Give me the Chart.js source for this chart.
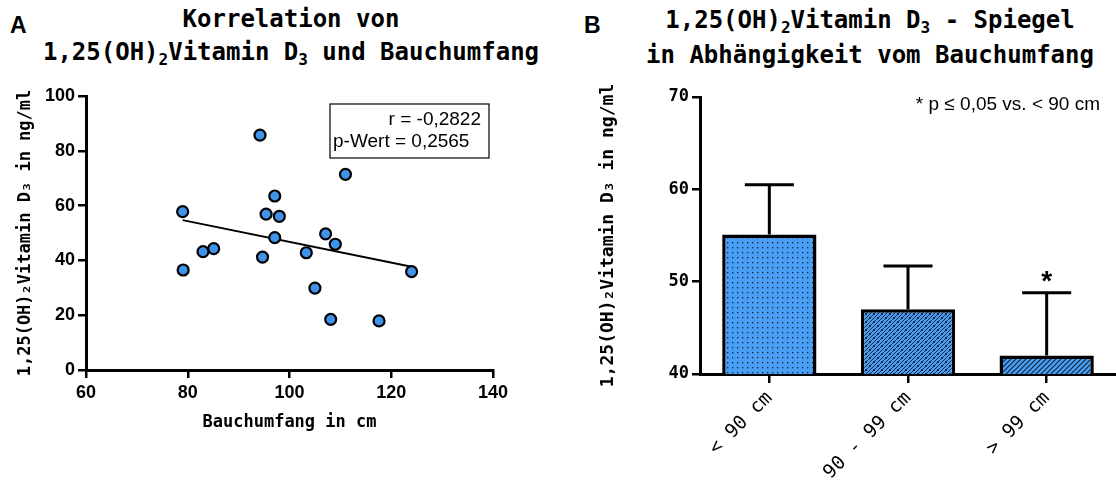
<!DOCTYPE html>
<html>
<head>
<meta charset="utf-8">
<script src="https://cdn.jsdelivr.net/npm/chart.js@4.4.1/dist/chart.umd.min.js"></script>
<style>
    body { margin: 0; background: #fff; width: 1116px; height: 481px; overflow: hidden; position: relative; }
    .wrap { position: absolute; top: 0; height: 481px; }
    .panel { position: absolute; font: bold 23px "Liberation Sans", Arial, sans-serif; color: #000; }
    .title { position: absolute; font: bold 24px "DejaVu Sans Mono", monospace; color: #000; text-align: center;
             white-space: nowrap; transform: translateX(-50%); }
    .title sub { font-size: 16px; vertical-align: -5px; line-height: 0; }
</style>
</head>
<body>
<div class="panel" style="left:10px;top:12px">A</div>
<div class="panel" style="left:584px;top:12px">B</div>
<div class="title" style="left:291px;top:3px;line-height:33px">Korrelation von<br>1,25(OH)<sub>2</sub>Vitamin D<sub>3</sub> und Bauchumfang</div>
<div class="title" style="left:870px;top:3px;line-height:35px">1,25(OH)<sub>2</sub>Vitamin D<sub>3</sub> - Spiegel<br>in Abhängigkeit vom Bauchumfang</div>

<div class="wrap" style="left:0;width:560px"><canvas id="scatterChart" width="560" height="481"></canvas></div>
<div class="wrap" style="left:560px;width:556px"><canvas id="barChart" width="556" height="481"></canvas></div>

<script>
// Panel A: Bauchumfang (cm) gegen 1,25(OH)2 Vitamin D3 (ng/ml)
var waistCm  = [79.0, 79.1, 83.0, 85.1, 94.2, 94.7, 95.4, 97.1, 97.1, 98.0, 103.3, 105.0, 107.1, 108.1, 109.0, 111.0, 117.6, 124.0];
var vitaminD = [57.8, 36.5, 43.2, 44.3, 85.7, 41.2, 56.9, 63.5, 48.3, 56.1, 42.8, 29.9, 49.7, 18.5, 45.9, 71.4, 17.9, 35.9];
var fitX = [79, 124];
var fitY = [54.7, 37.7];
var statLines = ['r = -0,2822', 'p-Wert = 0,2565'];

// Panel B: Mittelwert + SD je Gruppe
var groups = ['< 90 cm', '90 - 99 cm', '> 99 cm'];
var means  = [55.1, 47.0, 42.0];
var sds    = [5.4, 4.7, 6.8];
var marks  = ['', '', '*'];
var noteB  = '* p \u2264 0,05 vs. < 90 cm';

var yTitle = '1,25(OH)\u2082Vitamin D\u2083 in ng/ml';
var blue = '#4a9ff5';
var monoBold = { family: '"DejaVu Sans Mono", monospace', weight: 'bold' };

function makePattern(kind) {
    var c = document.createElement('canvas');
    var s = kind === 'cross' ? 8 : 5;
    c.width = s; c.height = s;
    var g = c.getContext('2d');
    g.fillStyle = blue;
    g.fillRect(0, 0, s, s);
    g.strokeStyle = '#13263d';
    g.fillStyle = '#13263d';
    g.lineWidth = 1;
    if (kind === 'dots') {
        g.fillRect(2, 2, 1.3, 1.3);
    } else if (kind === 'hatch') {
        g.lineWidth = 1.2;
        g.beginPath();
        g.moveTo(-1, s + 1); g.lineTo(s + 1, -1);
        g.moveTo(-1, 1); g.lineTo(1, -1);
        g.moveTo(s - 1, s + 1); g.lineTo(s + 1, s - 1);
        g.stroke();
    } else {
        g.beginPath();
        g.moveTo(-1, s + 1); g.lineTo(s + 1, -1);
        g.moveTo(-1, s / 2 + 1); g.lineTo(s / 2 + 1, -1);
        g.moveTo(s / 2 - 1, s + 1); g.lineTo(s + 1, s / 2 - 1);
        g.moveTo(1, 1); g.lineTo(3, 3);
        g.moveTo(5, 5); g.lineTo(7, 7);
        g.stroke();
    }
    return g.createPattern(c, 'repeat');
}

var statBox = {
    id: 'statBox',
    afterDraw: function (chart) {
        var ctx = chart.ctx, a = chart.chartArea;
        var right = a.right - 4, left = right - 159, top = a.top + 8;
        ctx.save();
        ctx.strokeStyle = '#000';
        ctx.lineWidth = 1.2;
        ctx.strokeRect(left, top, right - left, 54);
        ctx.fillStyle = '#000';
        ctx.font = '19px "Liberation Sans", Arial, sans-serif';
        ctx.textBaseline = 'middle';
        ctx.textAlign = 'right';
        ctx.fillText(statLines[0], right - 8, top + 16);
        ctx.textAlign = 'left';
        ctx.fillText(statLines[1], left + 3, top + 38);
        ctx.restore();
    }
};

var errorBars = {
    id: 'errorBars',
    afterDatasetsDraw: function (chart) {
        var ctx = chart.ctx, y = chart.scales.y;
        var meta = chart.getDatasetMeta(0);
        ctx.save();
        ctx.strokeStyle = '#000';
        ctx.lineWidth = 3;
        meta.data.forEach(function (bar, i) {
            var yTop = y.getPixelForValue(means[i] + sds[i]);
            var half = bar.width * 0.26;
            ctx.beginPath();
            ctx.moveTo(bar.x, bar.y);
            ctx.lineTo(bar.x, yTop);
            ctx.moveTo(bar.x - half, yTop);
            ctx.lineTo(bar.x + half, yTop);
            ctx.stroke();
            if (marks[i]) {
                ctx.fillStyle = '#000';
                ctx.font = 'bold 28px "Liberation Sans", Arial, sans-serif';
                ctx.textAlign = 'center';
                ctx.textBaseline = 'middle';
                ctx.fillText(marks[i], bar.x, yTop - 10);
            }
        });
        // Hinweis oben rechts
        var a = chart.chartArea;
        ctx.fillStyle = '#000';
        ctx.font = '19px "Liberation Sans", Arial, sans-serif';
        ctx.textAlign = 'right';
        ctx.textBaseline = 'middle';
        ctx.fillText(noteB, a.right - 16, a.top + 8);
        ctx.restore();
    }
};

function axisGrid(len) {
    return { drawOnChartArea: false, drawTicks: true, tickLength: len, color: '#000', lineWidth: 2.5 };
}

var ctxA = document.getElementById('scatterChart').getContext('2d');
var scatterChart = new Chart(ctxA, {
    type: 'scatter',
    data: {
        datasets: [{
            data: waistCm.map(function (w, i) { return { x: w, y: vitaminD[i] }; }),
            backgroundColor: '#3f94ea',
            borderColor: '#000',
            borderWidth: 2.2,
            pointRadius: 5.5
        }, {
            data: fitX.map(function (x, i) { return { x: x, y: fitY[i] }; }),
            showLine: true,
            borderColor: '#000',
            borderWidth: 2,
            pointRadius: 0
        }]
    },
    options: {
        responsive: false,
        animation: false,
        layout: { padding: { top: 96, right: 67, bottom: 0, left: 0 } },
        plugins: { legend: { display: false }, tooltip: { enabled: false } },
        scales: {
            x: {
                type: 'linear', min: 60, max: 140,
                ticks: { stepSize: 20, color: '#000', padding: 4,
                         font: { family: '"Liberation Sans", Arial, sans-serif', weight: 'bold', size: 18 } },
                grid: axisGrid(8),
                border: { color: '#000', width: 3 },
                title: { display: true, text: 'Bauchumfang in cm', color: '#000',
                         font: Object.assign({ size: 17 }, monoBold), padding: { top: 0, bottom: 48 } },
                afterFit: function (s) { s.height = 111; }
            },
            y: {
                min: 0, max: 100,
                ticks: { stepSize: 20, color: '#000', padding: 3,
                         font: { family: '"Liberation Sans", Arial, sans-serif', weight: 'bold', size: 18 } },
                grid: axisGrid(8),
                border: { color: '#000', width: 3 },
                title: { display: true, text: yTitle, color: '#000',
                         font: Object.assign({ size: 17 }, monoBold), padding: { top: 15, bottom: 0 } },
                afterFit: function (s) { s.width = 86; }
            }
        }
    },
    plugins: [statBox]
});

var ctxB = document.getElementById('barChart').getContext('2d');
var barChart = new Chart(ctxB, {
    type: 'bar',
    data: {
        labels: groups,
        datasets: [{
            data: means,
            backgroundColor: [makePattern('dots'), makePattern('cross'), makePattern('hatch')],
            borderColor: '#000',
            borderWidth: 3.5,
            borderSkipped: false,
            categoryPercentage: 1,
            barPercentage: 0.68
        }]
    },
    options: {
        responsive: false,
        animation: false,
        layout: { padding: { top: 97, right: 0, bottom: 0, left: 0 } },
        plugins: { legend: { display: false }, tooltip: { enabled: false } },
        scales: {
            x: {
                ticks: { color: '#000', padding: 4, minRotation: 45, maxRotation: 45,
                         font: { family: '"DejaVu Sans Mono", monospace', size: 19 } },
                grid: Object.assign(axisGrid(9), { offset: false }),
                border: { color: '#000', width: 3 },
                afterFit: function (s) { s.height = 107; }
            },
            y: {
                min: 40, max: 70,
                ticks: { stepSize: 10, color: '#000', padding: 3,
                         font: Object.assign({ size: 17 }, monoBold) },
                grid: axisGrid(8),
                border: { color: '#000', width: 3 },
                title: { display: true, text: yTitle, color: '#000',
                         font: Object.assign({ size: 18 }, monoBold), padding: { top: 38, bottom: 0 } },
                afterFit: function (s) { s.width = 140; }
            }
        }
    },
    plugins: [errorBars]
});
</script>
</body>
</html>
